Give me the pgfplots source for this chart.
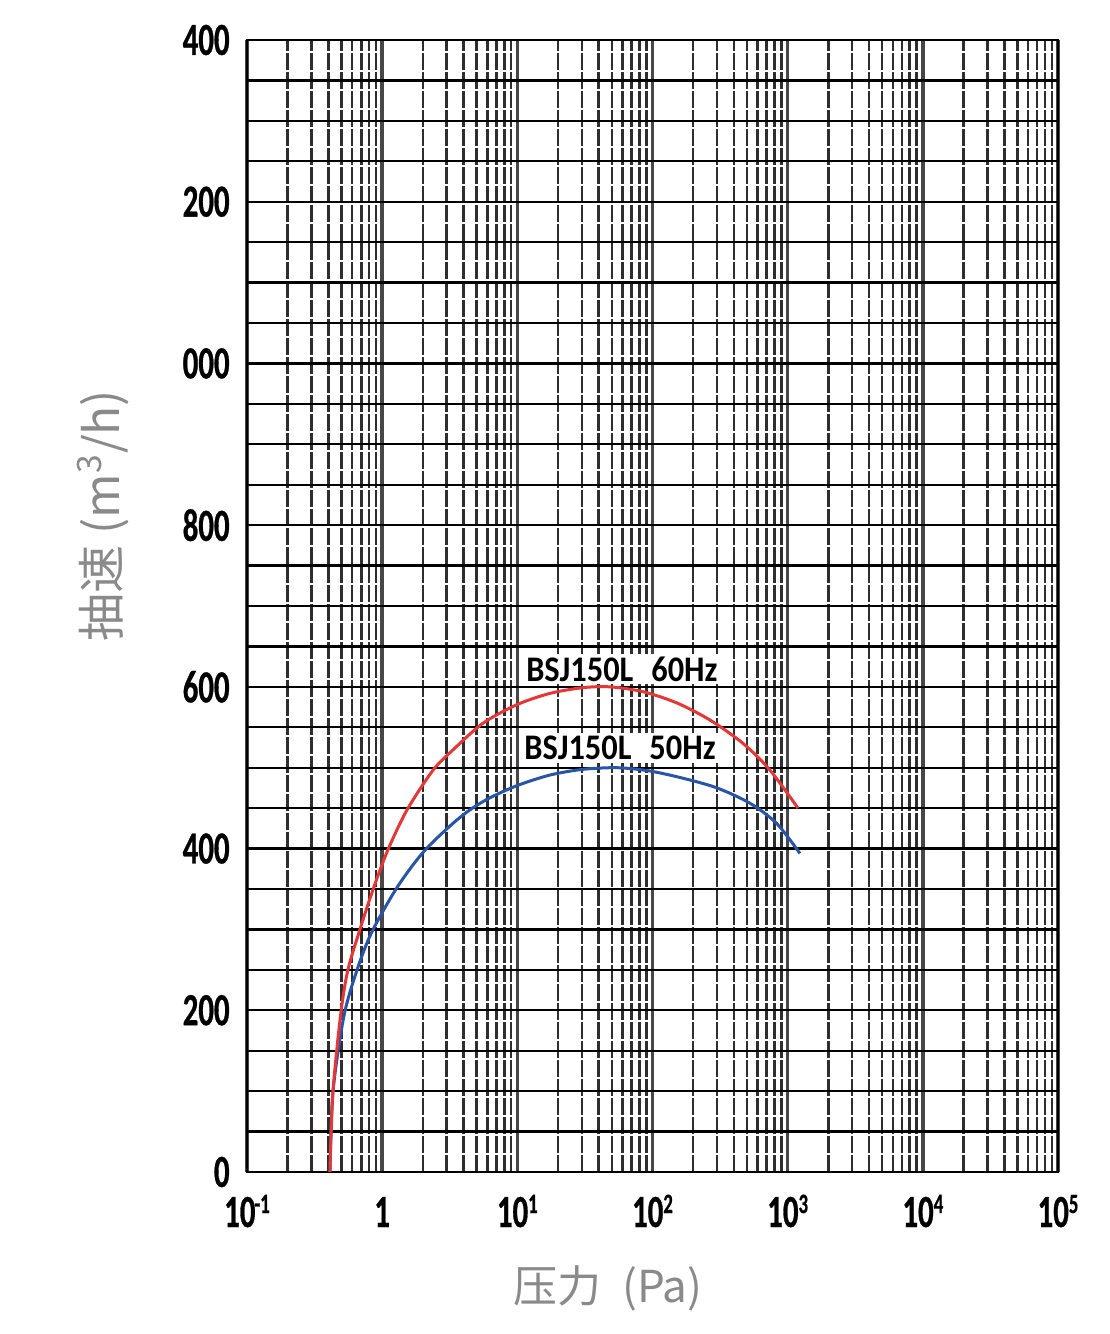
\documentclass[border=0pt]{standalone}
\usepackage{fontspec}
\usepackage{pgfplots}
\pgfplotsset{compat=1.18}
\setmainfont{Carlito}
\newfontfamily\tickfont[FakeStretch=0.67,FakeBold=0.6]{Carlito}
\newfontfamily\labfont[FakeStretch=0.9]{Carlito}
\newfontfamily\cjk{Noto Sans CJK SC}
\definecolor{labgray}{RGB}{138,138,138}
\definecolor{cred}{RGB}{228,55,55}
\definecolor{cblue}{RGB}{40,85,165}
\newcommand\sups[1]{\raisebox{7pt}{\fontsize{14}{14}\selectfont #1}}
\begin{document}
\begin{tikzpicture}
\path[use as bounding box, fill=white] (0,0) rectangle (554.5pt,667pt);
\begin{axis}[
  at={(123.5pt,81pt)}, anchor=south west,
  scale only axis, width=405.5pt, height=566pt,
  xmode=log, xmin=0.1, xmax=1e5, ymin=0, ymax=1400,
  xtick={0.1,1,10,100,1000,10000,100000},
  xticklabels={10\kern-0.5pt\sups{-1},1,10\sups{1},10\sups{2},10\sups{3},10\sups{4},10\sups{5}},
  minor xtick={0.2,0.3,0.4,0.5,0.6,0.7,0.8,0.9,2,3,4,5,6,7,8,9,20,30,40,50,60,70,80,90,200,300,400,500,600,700,800,900,2000,3000,4000,5000,6000,7000,8000,9000,20000,30000,40000,50000,60000,70000,80000,90000},
  ytick={0,200,400,600,800,1000,1200,1400},
  yticklabels={0,200,400,600,800,000,200,400},
  minor ytick={50,100,150,250,300,350,450,500,550,650,700,750,850,900,950,1050,1100,1150,1250,1300,1350},
  xmajorgrids, xminorgrids, ymajorgrids, yminorgrids,
  major x grid style={line width=1.7pt, black!72},
  minor x grid style={line width=1.3pt, black!82, dash pattern=on 8.5pt off 1pt},
  major y grid style={line width=1.1pt, black},
  minor y grid style={line width=1.1pt, black},
  major tick length=0pt, minor tick length=0pt,
  axis line style={line width=1.4pt, black},
  xticklabel style={font=\tickfont\bfseries\fontsize{23}{23}\selectfont, anchor=base, inner sep=0pt, yshift=-27.5pt},
  yticklabel style={font=\tickfont\bfseries\fontsize{23}{23}\selectfont, anchor=east, inner sep=0pt, xshift=-8.5pt},
  xlabel={压力\hspace{0.25em} (Pa)},
  xlabel style={at={(axis description cs:0.445,-0.1025)}, anchor=center, font=\cjk\fontsize{22}{22}\selectfont, text=labgray},
  ylabel={抽速 (m\textsuperscript{3}/h)},
  ylabel style={at={(axis description cs:-0.178,0.58)}, anchor=center, font=\cjk\fontsize{24}{24}\selectfont, text=labgray},
]
\addplot[cblue, line width=1.5pt, smooth] coordinates {
(0.411,0) (0.432,98) (0.52,192) (0.652,250) (0.84,297) (1.29,352) (2.0,395) (3.18,428) (4.47,448) (6.31,463) (10,478) (17.5,491) (30.6,498) (55,500) (95,496) (168,487) (300,475) (527,456) (830,431) (1232,394)
};
\addplot[cred, line width=1.5pt, smooth] coordinates {
(0.411,0) (0.432,98) (0.495,197) (0.558,250) (0.685,300) (0.855,349) (1.10,398) (1.53,448) (2.38,497) (3.34,522) (5.57,555) (9.95,578) (17.5,592) (30.6,599) (48.5,600) (85,594) (152,580) (266,559) (468,530) (740,497) (1192,450)
};
\node[fill=white, inner sep=1.5pt, font=\labfont\bfseries\fontsize{18}{18}\selectfont] at (axis cs:59.4,622) {BSJ150L\enspace 60Hz};
\node[fill=white, inner sep=1.5pt, font=\labfont\bfseries\fontsize{18}{18}\selectfont] at (axis cs:57.5,524) {BSJ150L\enspace 50Hz};
\end{axis}
\end{tikzpicture}
\end{document}
